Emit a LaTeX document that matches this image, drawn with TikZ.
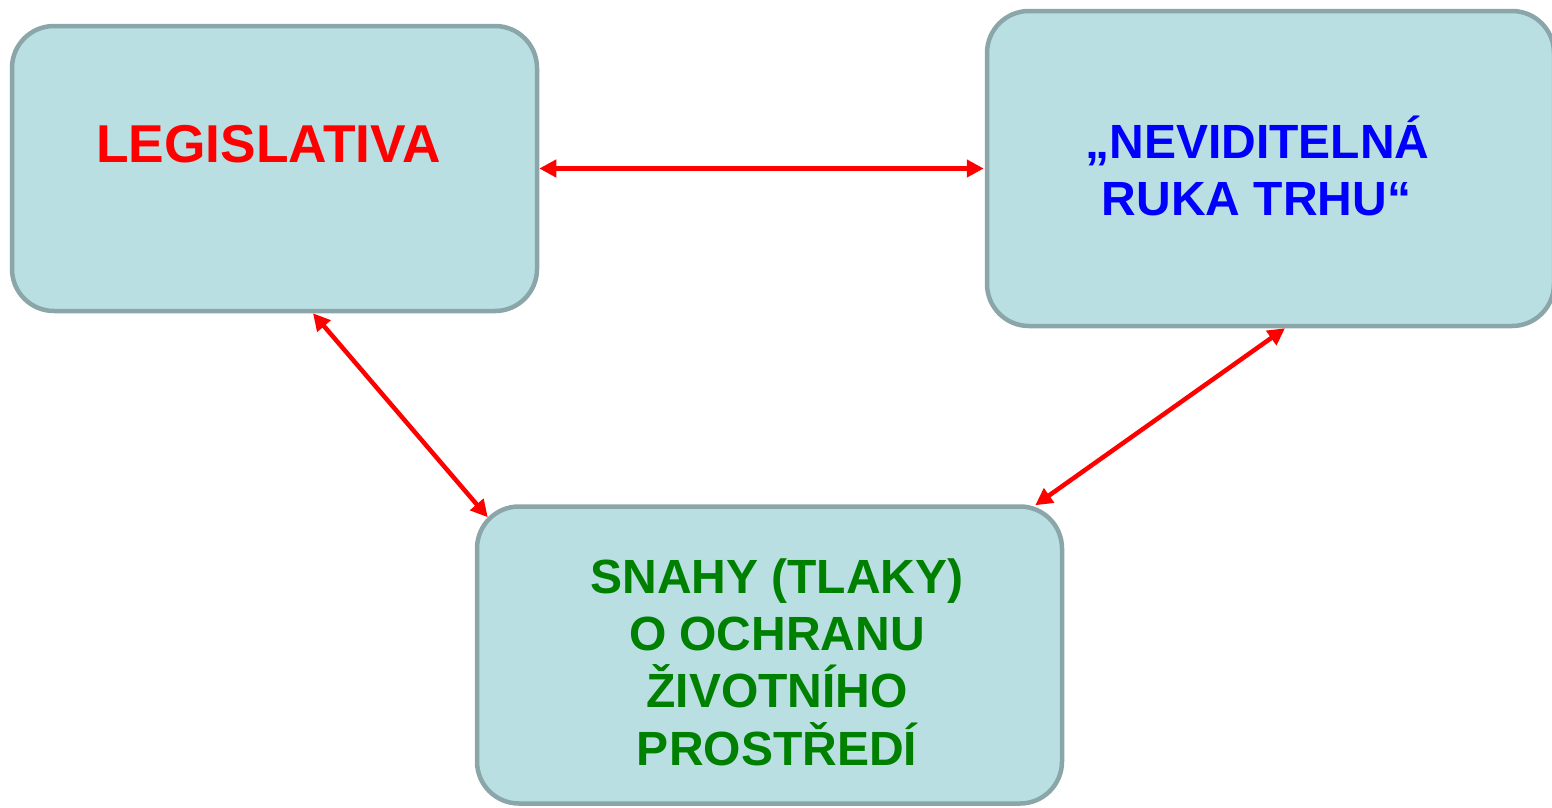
\documentclass[tikz,border=0pt]{standalone}
\usepackage{fontspec}
\setmainfont{Liberation Sans}
\usetikzlibrary{arrows.meta}
\definecolor{boxfill}{RGB}{186,223,226}
\definecolor{boxline}{RGB}{138,166,168}
\definecolor{txtred}{RGB}{255,0,0}
\definecolor{txtblue}{RGB}{0,0,255}
\definecolor{txtgreen}{RGB}{0,128,0}
\definecolor{arrred}{RGB}{255,0,0}
\tikzset{
  panel/.style={draw=boxline, fill=boxfill, line width=4.5pt, rounded corners=42pt, inner sep=0pt},
  lbl/.style={anchor=base, inner sep=0pt, font=\fontsize{48}{57}\selectfont\bfseries},
  link/.style={draw=arrred, line width=4.5pt, {Triangle[length=17pt,width=17pt]}-{Triangle[length=17pt,width=17pt]}}
}
\begin{document}
\begin{tikzpicture}[x=1pt,y=-1pt]
\useasboundingbox (0,0) rectangle (1552,807);
\node[panel, minimum width=525pt, minimum height=285pt] (b1) at (274.5,168.5) {};
\node[panel, minimum width=567pt, minimum height=315pt] (b2) at (1270.5,168.5) {};
\node[panel, minimum width=585pt, minimum height=297pt] (b3) at (769.5,655) {};
\node[lbl, font=\fontsize{53.3}{60}\selectfont\bfseries, text=txtred] (t1) at (268.5,162.5) {LEGISLATIVA};
\node[lbl, text=txtblue] (t2a) at (1257.5,158) {„NEVIDITELNÁ};
\node[lbl, text=txtblue] (t2b) at (1256.5,215) {RUKA TRHU“};
\node[lbl, text=txtgreen] (t3a) at (777,593) {SNAHY (TLAKY)};
\node[lbl, text=txtgreen] (t3b) at (777,650) {O OCHRANU};
\node[lbl, text=txtgreen] (t3c) at (777,707) {ŽIVOTNÍHO};
\node[lbl, text=txtgreen] (t3d) at (777,765) {PROSTŘEDÍ};
\draw[link] (b1.east) -- ([xshift=-1pt]b2.west);
\draw[link] ([xshift=38.5pt]b1.south) -- ([xshift=13pt,yshift=-13pt]b3.north west);
\draw[link] ([xshift=14.5pt]b2.south) -- ([xshift=-29pt,yshift=-1pt]b3.north east);
\end{tikzpicture}
\end{document}
